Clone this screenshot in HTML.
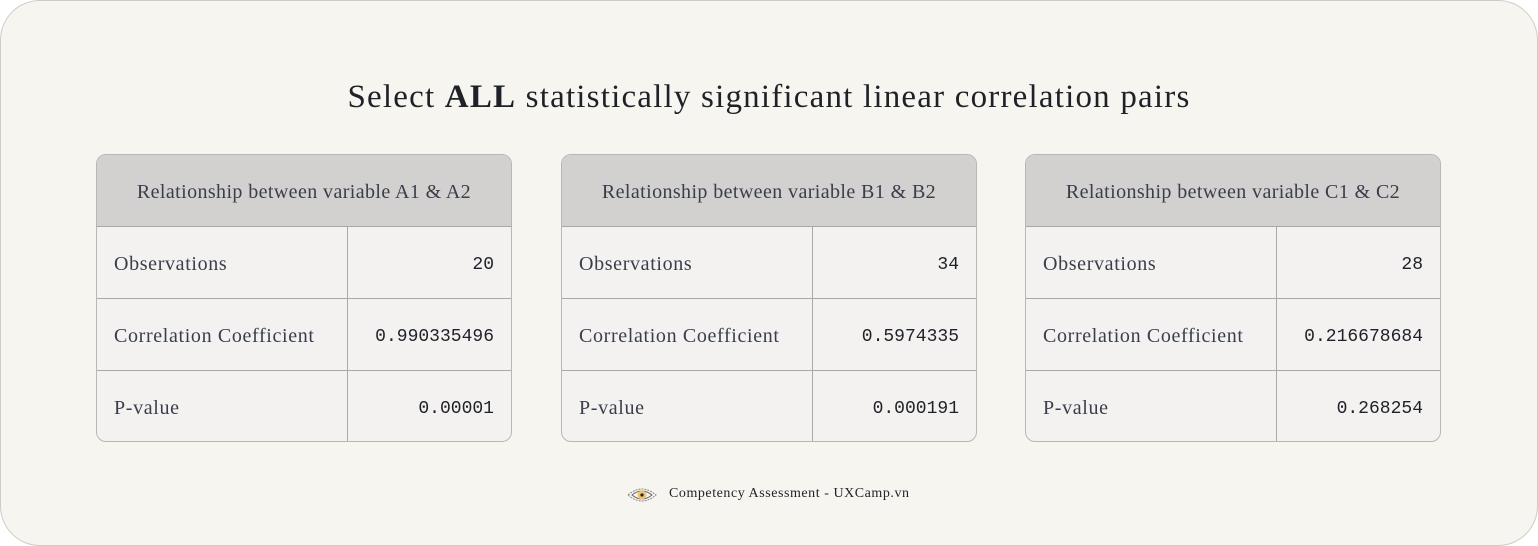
<!DOCTYPE html>
<html><head><meta charset="utf-8"><style>
*{margin:0;padding:0;box-sizing:border-box}
body{width:1538px;height:546px;background:#fff;overflow:hidden;font-family:"Liberation Serif",serif}
.card{position:absolute;left:0;top:0;width:1538px;height:546px;background:#f7f5f0;border:1px solid #cfccc6;border-radius:40px}
h1{position:absolute;left:0;width:1538px;top:79px;text-align:center;font-weight:normal;font-size:33px;letter-spacing:1.2px;color:#1f2128}
.tbl{position:absolute;top:154px;width:416px;height:288px;border:1px solid #b9b7b3;border-radius:10px;overflow:hidden;background:#f3f2f0}
.hd{height:72px;background:#d2d1cf;border-bottom:1px solid #a9a8a6;text-align:center;line-height:74px;font-size:20px;letter-spacing:0.4px;color:#3a3e4a}
.row{height:72px;display:flex;border-bottom:1px solid #a9a8a6}
.row:last-child{border-bottom:none}
.lab{width:251px;border-right:1px solid #a9a8a6;padding-left:17px;line-height:75px;font-size:20px;letter-spacing:0.65px;color:#3a3e4a}
.val{flex:1;text-align:right;padding-right:17px;line-height:76px;font-family:"Liberation Mono",monospace;font-size:18px;color:#1f2128}
.foot{position:absolute;top:486px;left:669px;font-size:14px;letter-spacing:0.55px;color:#1f2128}
.eye{position:absolute;left:627px;top:486px}
</style></head><body>
<div class="card"></div>
<h1>Select <b>ALL</b> statistically significant linear correlation pairs</h1>

<div class="tbl" style="left:96px">
<div class="hd">Relationship between variable A1 &amp; A2</div>
<div class="row"><div class="lab">Observations</div><div class="val">20</div></div>
<div class="row"><div class="lab">Correlation Coefficient</div><div class="val">0.990335496</div></div>
<div class="row"><div class="lab">P-value</div><div class="val">0.00001</div></div>
</div>

<div class="tbl" style="left:561px">
<div class="hd">Relationship between variable B1 &amp; B2</div>
<div class="row"><div class="lab">Observations</div><div class="val">34</div></div>
<div class="row"><div class="lab">Correlation Coefficient</div><div class="val">0.5974335</div></div>
<div class="row"><div class="lab">P-value</div><div class="val">0.000191</div></div>
</div>

<div class="tbl" style="left:1025px">
<div class="hd">Relationship between variable C1 &amp; C2</div>
<div class="row"><div class="lab">Observations</div><div class="val">28</div></div>
<div class="row"><div class="lab">Correlation Coefficient</div><div class="val">0.216678684</div></div>
<div class="row"><div class="lab">P-value</div><div class="val">0.268254</div></div>
</div>

<svg class="eye" width="30" height="18" viewBox="0 0 30 18">
<path d="M1 9 Q15 -3 29 9 Q15 21 1 9Z" fill="none" stroke="#888" stroke-width="1" stroke-dasharray="2 1"/>
<path d="M5 9 Q15 1 25 9 Q15 17 5 9Z" fill="none" stroke="#666" stroke-width="1"/>
<circle cx="15" cy="9" r="4.5" fill="#f2c46a"/><circle cx="15" cy="9" r="1.6" fill="#222"/>
</svg>
<div class="foot">Competency Assessment - UXCamp.vn</div>
</body></html>
